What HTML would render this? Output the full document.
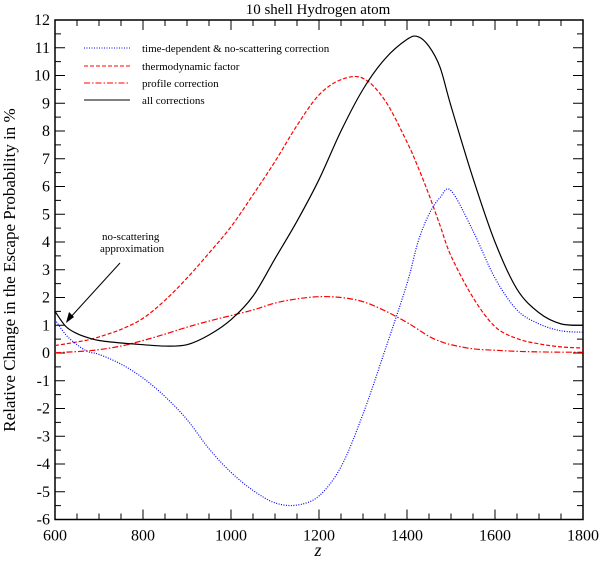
<!DOCTYPE html>
<html><head><meta charset="utf-8"><style>
body{margin:0;background:#fff}
svg text{font-family:"Liberation Serif",serif;fill:#000}
</style></head><body>
<svg id="chart" width="601" height="559" xmlns="http://www.w3.org/2000/svg">
<text x="318" y="14" font-size="15" text-anchor="middle">10 shell Hydrogen atom</text>
<text transform="translate(15,270) rotate(-90)" font-size="17" text-anchor="middle">Relative Change in the Escape Probability in %</text>
<text x="318" y="556" font-size="18" font-style="italic" text-anchor="middle">z</text>
<g id="axes"></g>
<g id="series"></g>
<g font-size="11">
<line x1="84" y1="48" x2="130" y2="48" stroke="#00f" stroke-dasharray="1,1.5"/>
<text x="142" y="52">time-dependent &amp; no-scattering correction</text>
<line x1="84" y1="66" x2="130" y2="66" stroke="#f00" stroke-dasharray="4,2"/>
<text x="142" y="70">thermodynamic factor</text>
<line x1="84" y1="83" x2="130" y2="83" stroke="#f00" stroke-dasharray="6,2,1.5,2"/>
<text x="142" y="87">profile correction</text>
<line x1="84" y1="100" x2="130" y2="100" stroke="#000"/>
<text x="142" y="104">all corrections</text>
</g>
<g font-size="11">
<text x="102" y="240">no-scattering</text>
<text x="100" y="252">approximation</text>
<line x1="120" y1="263" x2="69" y2="319" stroke="#000" stroke-width="1"/>
<polygon points="66,323 69,312 74,317" fill="#000"/>
</g>
</svg>
<script>
const zVals=[600,625,650,675,700,750,800,850,900,950,1000,1050,1100,1150,1200,1250,1300,1350,1400,1425,1450,1475,1500,1550,1600,1650,1700,1750,1800];
const timeDep=[1.2,0.65,0.3,0.05,-0.05,-0.4,-0.9,-1.57,-2.4,-3.45,-4.3,-4.95,-5.4,-5.48,-5.15,-4.1,-2.2,0.1,2.5,4.0,5.0,5.6,5.85,4.4,2.7,1.55,1.05,0.8,0.75];
const thermo=[0.27,0.33,0.4,0.47,0.58,0.85,1.25,1.9,2.7,3.6,4.55,5.7,6.9,8.2,9.3,9.85,9.9,9.1,7.6,6.7,5.7,4.6,3.5,2.0,0.95,0.52,0.33,0.22,0.18];
const profile=[0.01,0.03,0.05,0.08,0.12,0.25,0.45,0.68,0.93,1.15,1.35,1.55,1.8,1.95,2.03,2.0,1.85,1.52,1.1,0.85,0.6,0.42,0.3,0.15,0.1,0.06,0.04,0.03,0.03];
const allCorr=[1.5,0.95,0.7,0.55,0.45,0.36,0.3,0.25,0.3,0.65,1.2,2.05,3.4,4.75,6.25,8.0,9.5,10.6,11.3,11.4,11.05,10.3,8.9,6.3,4.0,2.3,1.45,1.05,1.0];
const xTicks=[600,800,1000,1200,1400,1600,1800];
const yTicks=[-6,-5,-4,-3,-2,-1,0,1,2,3,4,5,6,7,8,9,10,11,12];
const L=55,R=583,T=20,B=519.5;
const X=v=>L+(v-600)/1200*(R-L);
const Y=v=>B-(v+6)/18*(B-T);
const NS="http://www.w3.org/2000/svg";
const axes=document.getElementById('axes');
function mk(tag,attrs,parent){const e=document.createElementNS(NS,tag);for(const k in attrs)e.setAttribute(k,attrs[k]);parent.appendChild(e);return e;}
const frame=mk('rect',{x:L,y:T,width:R-L,height:B-T,fill:'none',stroke:'#000','stroke-width':1.5},axes);


for(let v=600;v<=1800;v+=50){const maj=v%200===0;const len=maj?10:6;
 const t1=mk('line',{x1:X(v),x2:X(v),y1:B,y2:B-len,stroke:'#000'},axes);
 
 
 const t2=mk('line',{x1:X(v),x2:X(v),y1:T,y2:T+len,stroke:'#000'},axes);
 
 }
xTicks.forEach(v=>{const t=mk('text',{x:X(v),y:B+21,'font-size':16,'text-anchor':'middle'},axes);t.textContent=v;
 
 });
for(let v=-6;v<=12;v+=0.5){const maj=Number.isInteger(v);const len=maj?10:6;
 const t1=mk('line',{x1:L,x2:L+len,y1:Y(v),y2:Y(v),stroke:'#000'},axes);
 
 
 const t2=mk('line',{x1:R,x2:R-len,y1:Y(v),y2:Y(v),stroke:'#000'},axes);
 
 }
yTicks.forEach(v=>{const t=mk('text',{x:L-5,y:Y(v)+5,'font-size':16,'text-anchor':'end'},axes);t.textContent=v;
 
 });
function pathD(vals){const p=zVals.map((z,i)=>[X(z),Y(vals[i])]);let d='M'+p[0][0]+','+p[0][1];
 for(let i=0;i<p.length-1;i++){const p0=p[Math.max(0,i-1)],p1=p[i],p2=p[i+1],p3=p[Math.min(p.length-1,i+2)];
  const c1=[p1[0]+(p2[0]-p0[0])/6,p1[1]+(p2[1]-p0[1])/6],c2=[p2[0]-(p3[0]-p1[0])/6,p2[1]-(p3[1]-p1[1])/6];
  d+=' C'+c1+' '+c2+' '+p2;}return d;}
const sg=document.getElementById('series');
const s1=mk('path',{d:pathD(thermo),fill:'none',stroke:'#f00','stroke-dasharray':'4,2','stroke-width':1.2},sg);


const s2=mk('path',{d:pathD(profile),fill:'none',stroke:'#f00','stroke-dasharray':'6,2,1.5,2','stroke-width':1.2},sg);


const s3=mk('path',{d:pathD(timeDep),fill:'none',stroke:'#00f','stroke-dasharray':'1,1.5','stroke-width':1.2},sg);


const s4=mk('path',{d:pathD(allCorr),fill:'none',stroke:'#000','stroke-width':1.2},sg);


</script>
</body></html>
